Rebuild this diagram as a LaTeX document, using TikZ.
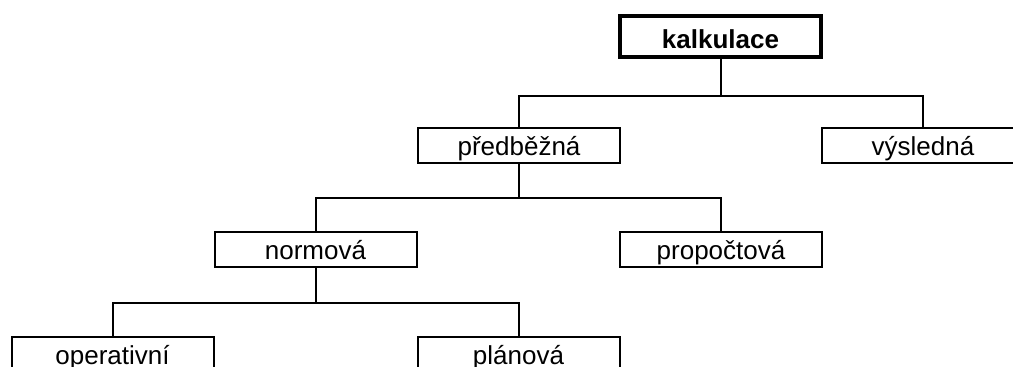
\documentclass[tikz,border=0pt]{standalone}
\usepackage{fontspec}
\setmainfont{Liberation Sans}
\usepackage{tikz}
\tikzset{
  kasten/.style={draw,line width=1pt,minimum width=101pt,minimum height=17.5pt,inner sep=0pt,text height=13.75pt,text depth=3.75pt,font=\fontsize{13}{15}\selectfont},
  hlavni/.style={kasten,line width=2pt,minimum width=100.5pt,minimum height=20.5pt,text height=16.15pt,text depth=4.35pt,font=\fontsize{13}{15}\selectfont\bfseries},
  spoj/.style={line width=1pt}
}

\begin{document}
\begin{tikzpicture}[x=0.5pt,y=0.5pt]
            \useasboundingbox (0,0) rectangle (1013,367);
            \node[hlavni] (kalk) at (720.5,330.5) {kalkulace}; %定义节点
            \node[kasten] (pred) at (519,221) {předběžná};
            \node[kasten] (vys)  at (923,221) {výsledná};
            \node[kasten] (norm) at (315.5,117) {normová};
            \node[kasten] (prop) at (721,117) {propočtová};
            \node[kasten] (oper) at (112.5,12.5) {operativní};
            \node[kasten] (plan) at (518.5,12.5) {plánová};
            \draw[spoj] (kalk.south) -- ++(0,-37) coordinate (k1); %连线
            \draw[spoj] (pred.north) |- (k1) -| (vys.north);
            \draw[spoj] (pred.south) -- ++(0,-33.5) coordinate (k2);
            \draw[spoj] (norm.north) |- (k2) -| (prop.north);
            \draw[spoj] (norm.south) -- ++(0,-34.5) coordinate (k3);
            \draw[spoj] (oper.north) |- (k3) -| (plan.north);
            \end{tikzpicture}
\end{document}
